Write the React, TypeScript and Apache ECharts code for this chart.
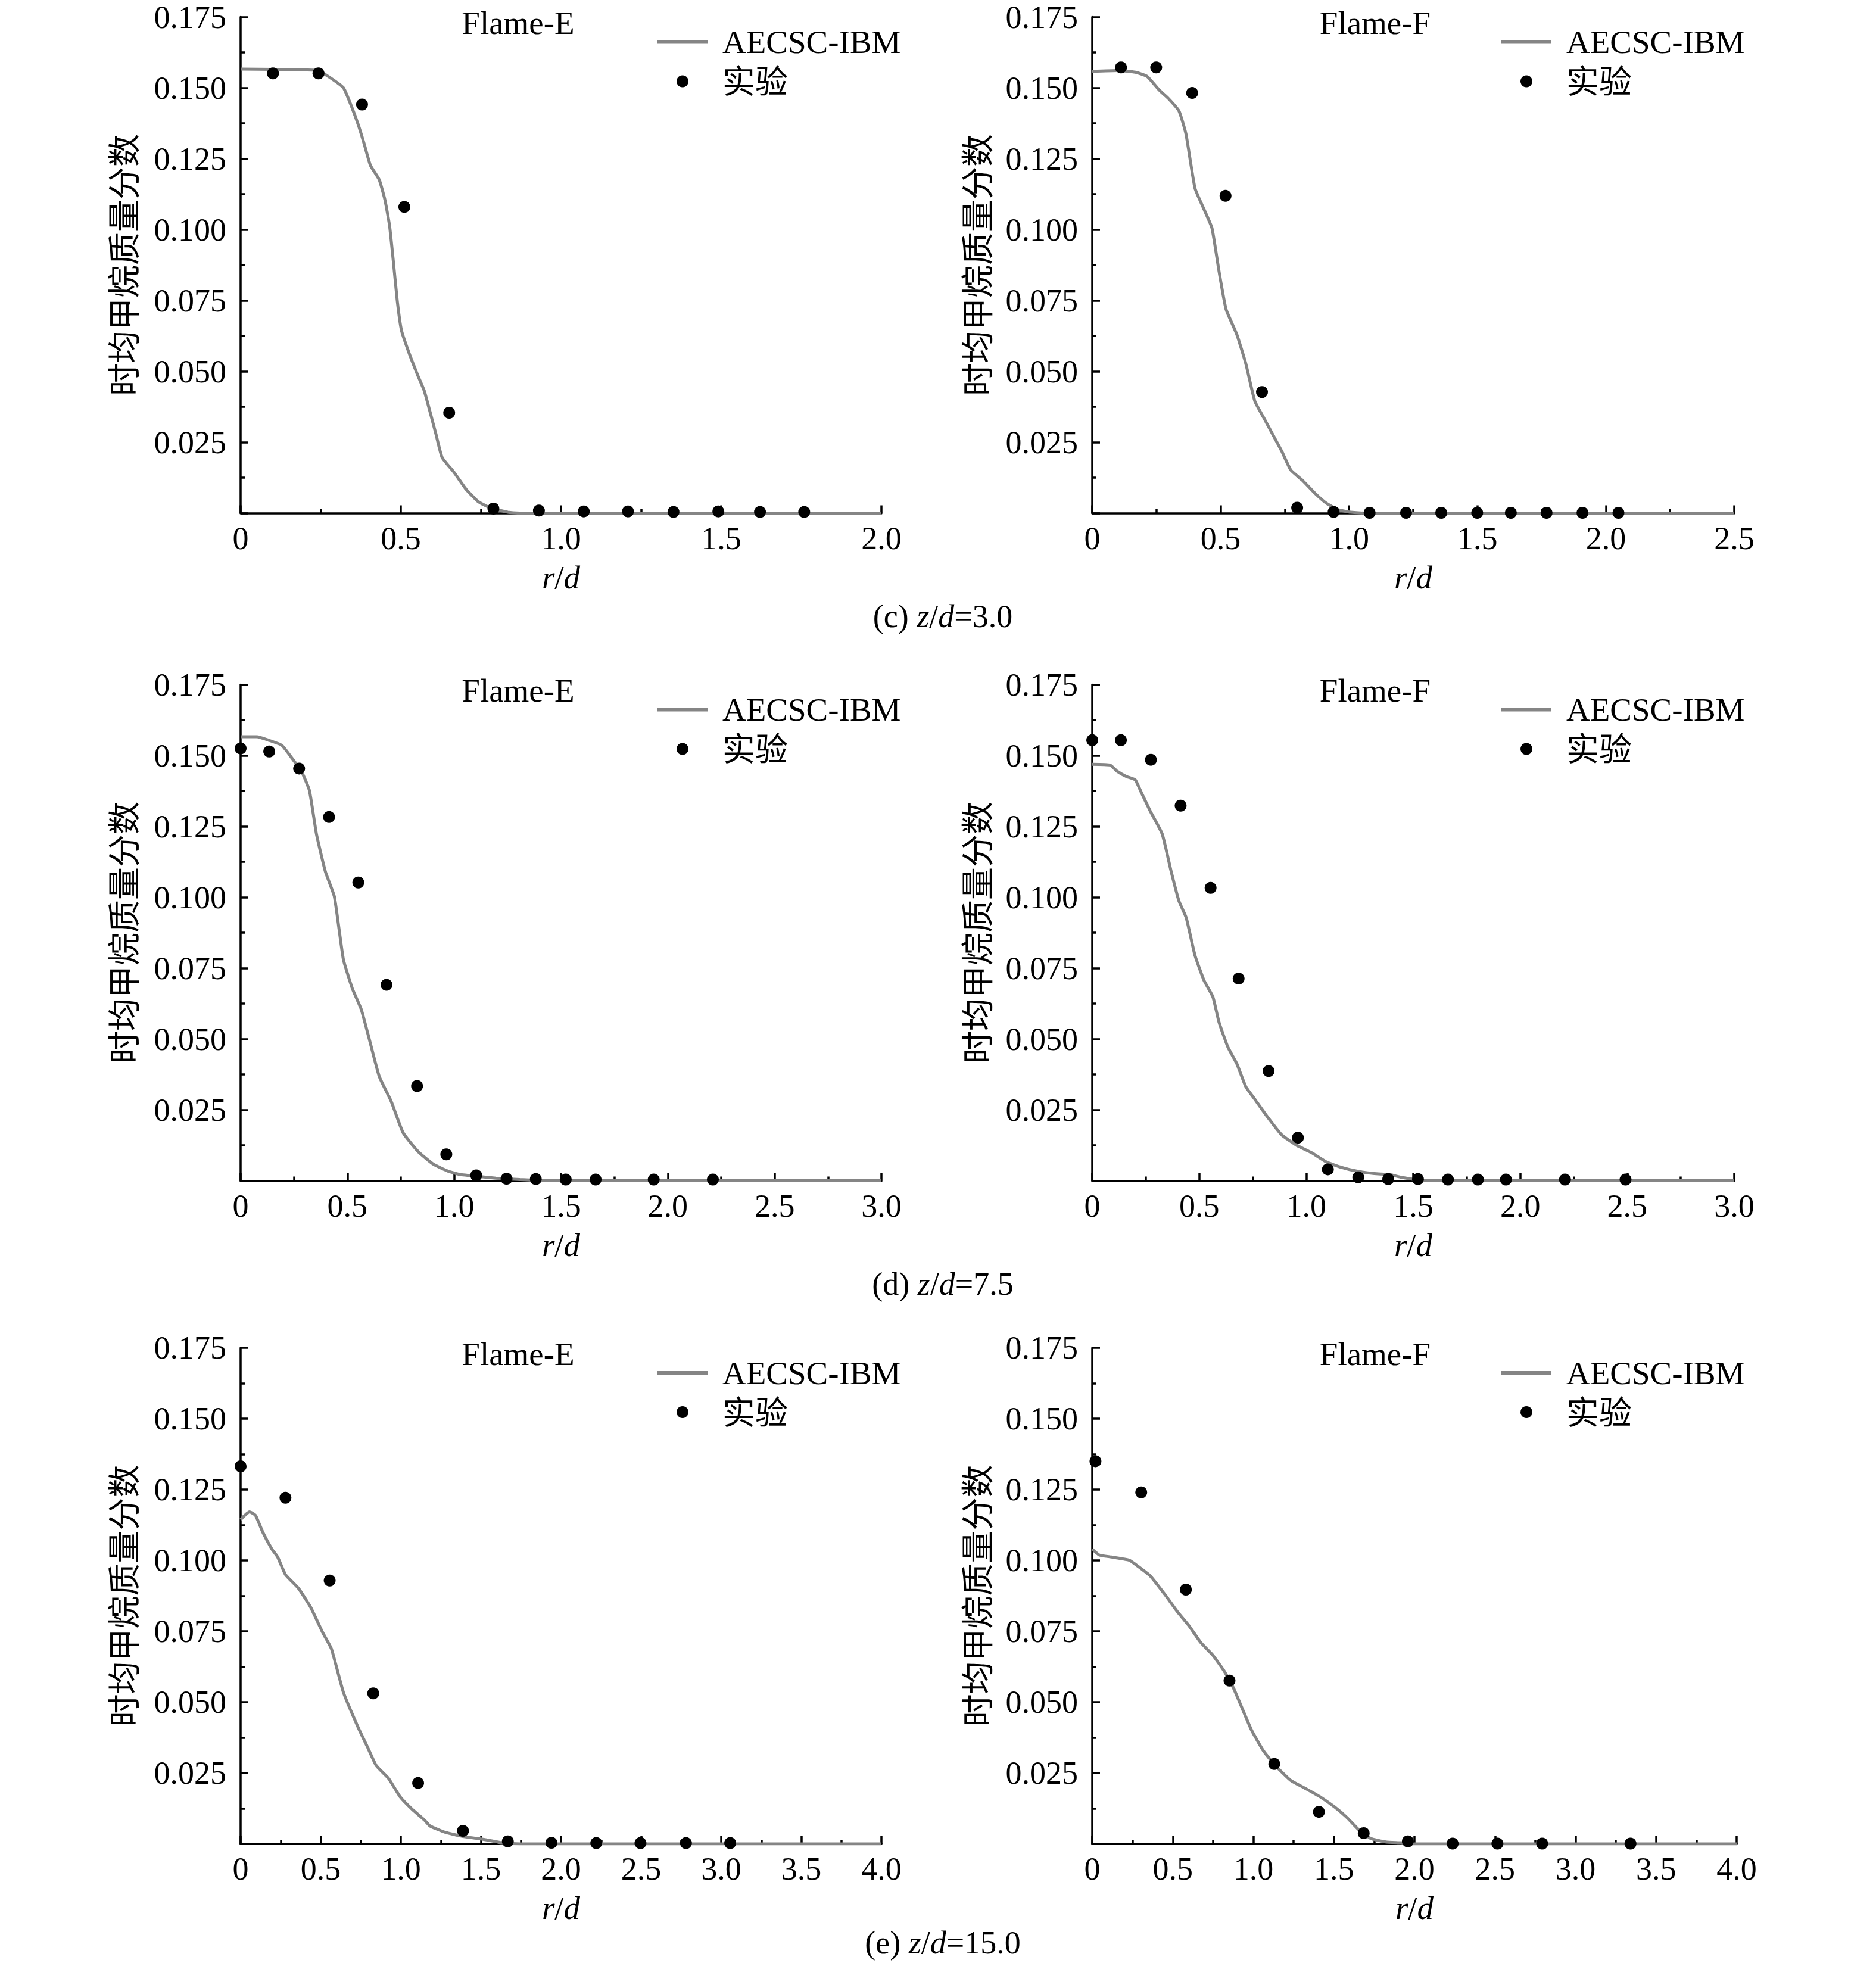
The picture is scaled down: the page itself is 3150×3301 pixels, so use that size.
import React, { useEffect, useRef } from "react";
import * as echarts from "echarts";

const FONT = "'Liberation Serif', 'Times New Roman', 'Noto Sans CJK SC', serif";

// ---------- data ----------
const legendNames = ["AECSC-IBM", "实验"];
const panelTitles = ["Flame-E", "Flame-F", "Flame-E", "Flame-F", "Flame-E", "Flame-F"];
const captions = ["(c) {i|z}/{i|d}=3.0", "(d) {i|z}/{i|d}=7.5", "(e) {i|z}/{i|d}=15.0"];
const xMaxes = [2.0, 2.5, 3.0, 3.0, 4.0, 4.0];
const yAxisName = "时均甲烷质量分数";

// z/d = 3.0, Flame-E
const simE3 = [
  [0, 0.1566], [0.1, 0.1565], [0.24, 0.1561], [0.274, 0.154], [0.321, 0.15], [0.349, 0.1426],
  [0.368, 0.1367], [0.386, 0.1301], [0.405, 0.1227], [0.433, 0.1175], [0.451, 0.1102],
  [0.465, 0.1013], [0.476, 0.0896], [0.489, 0.0748], [0.502, 0.0645], [0.526, 0.0564],
  [0.554, 0.0483], [0.573, 0.0432], [0.591, 0.0358], [0.61, 0.0277], [0.629, 0.0196],
  [0.666, 0.0144], [0.703, 0.0085], [0.741, 0.0041], [0.778, 0.0019], [0.834, 0.0003],
  [0.871, 0], [1.2, 0], [1.6, 0], [2.0, 0],
];
const expE3 = [
  [0.101, 0.1551], [0.243, 0.1551], [0.379, 0.1441], [0.511, 0.108], [0.651, 0.0354],
  [0.789, 0.0016], [0.931, 0.0009], [1.071, 0.0006], [1.209, 0.0006], [1.351, 0.0004],
  [1.491, 0.0006], [1.621, 0.0004], [1.759, 0.0004],
];

// z/d = 3.0, Flame-F
const simF3 = [
  [0, 0.1558], [0.098, 0.1561], [0.168, 0.1555], [0.214, 0.154], [0.261, 0.1492], [0.296, 0.1463],
  [0.338, 0.1418], [0.365, 0.1337], [0.4, 0.1146], [0.435, 0.1072], [0.466, 0.1006],
  [0.494, 0.0851], [0.521, 0.0719], [0.563, 0.063], [0.598, 0.0527], [0.633, 0.0395],
  [0.668, 0.0336], [0.703, 0.0277], [0.738, 0.0218], [0.773, 0.0152], [0.819, 0.0115],
  [0.866, 0.0071], [0.913, 0.0034], [0.959, 0.0012], [1.006, 0.0003], [1.075, 0],
  [1.5, 0], [2.0, 0], [2.5, 0],
];
const expF3 = [
  [0.112, 0.1572], [0.249, 0.1572], [0.389, 0.1482], [0.519, 0.1119], [0.661, 0.0427],
  [0.798, 0.0019], [0.94, 0.0004], [1.08, 0.0001], [1.222, 0.0001], [1.359, 0.0001],
  [1.499, 0.0001], [1.63, 0.0001], [1.769, 0.0001], [1.909, 0.0001], [2.049, 0.0001],
];

// z/d = 7.5, Flame-E
const simE75 = [
  [0, 0.1566], [0.076, 0.1566], [0.131, 0.1554], [0.193, 0.1536], [0.243, 0.1488], [0.285, 0.1444],
  [0.322, 0.1377], [0.355, 0.1223], [0.397, 0.109], [0.439, 0.1002], [0.481, 0.0781],
  [0.523, 0.0678], [0.565, 0.0604], [0.607, 0.0486], [0.649, 0.0368], [0.705, 0.028],
  [0.761, 0.0169], [0.831, 0.0103], [0.901, 0.0059], [0.971, 0.0034], [1.027, 0.0022],
  [1.111, 0.0015], [1.195, 0.0009], [1.307, 0.0004], [1.391, 0.0001], [1.6, 0],
  [2.2, 0], [3.0, 0],
];
const expE75 = [
  [0, 0.1525], [0.134, 0.1514], [0.274, 0.1454], [0.414, 0.1283], [0.551, 0.1052],
  [0.683, 0.0691], [0.826, 0.0334], [0.963, 0.0093], [1.103, 0.0019], [1.245, 0.0007],
  [1.382, 0.0006], [1.522, 0.0004], [1.662, 0.0004], [1.934, 0.0004], [2.211, 0.0004],
];

// z/d = 7.5, Flame-F
const simF75 = [
  [0, 0.1469], [0.084, 0.1466], [0.117, 0.1444], [0.159, 0.1426], [0.201, 0.1414], [0.229, 0.137],
  [0.271, 0.1304], [0.327, 0.1223], [0.369, 0.109], [0.405, 0.0987], [0.439, 0.0928],
  [0.48, 0.0795], [0.522, 0.0707], [0.564, 0.0648], [0.592, 0.056], [0.634, 0.0471],
  [0.676, 0.0412], [0.718, 0.0331], [0.76, 0.0287], [0.816, 0.0228], [0.885, 0.0162],
  [0.955, 0.0125], [1.025, 0.0099], [1.095, 0.0066], [1.165, 0.0047], [1.235, 0.0034],
  [1.318, 0.0025], [1.388, 0.0022], [1.444, 0.0012], [1.514, 0.0004], [1.6, 0],
  [2.2, 0], [3.0, 0],
];
const expF75 = [
  [0, 0.1554], [0.134, 0.1554], [0.274, 0.1485], [0.413, 0.1323], [0.553, 0.1033],
  [0.684, 0.0713], [0.824, 0.0387], [0.961, 0.0152], [1.101, 0.004], [1.243, 0.0012],
  [1.383, 0.0006], [1.522, 0.0006], [1.662, 0.0004], [1.802, 0.0004], [1.933, 0.0004],
  [2.209, 0.0004], [2.492, 0.0004],
];

// z/d = 15.0, Flame-E
const simE15 = [
  [0, 0.1144], [0.026, 0.1159], [0.056, 0.1171], [0.093, 0.1159], [0.138, 0.11], [0.194, 0.1041],
  [0.231, 0.1012], [0.28, 0.095], [0.362, 0.0901], [0.437, 0.0835], [0.511, 0.0747],
  [0.567, 0.0688], [0.642, 0.0534], [0.735, 0.0409], [0.791, 0.0343], [0.847, 0.0276],
  [0.922, 0.0232], [0.996, 0.0166], [1.071, 0.0122], [1.146, 0.0085], [1.183, 0.0063],
  [1.276, 0.0041], [1.388, 0.0026], [1.481, 0.0019], [1.556, 0.0012], [1.631, 0.0004],
  [1.743, 0], [2.5, 0], [3.2, 0], [4.0, 0],
];
const expE15 = [
  [0, 0.1332], [0.28, 0.1221], [0.556, 0.0929], [0.828, 0.0531], [1.108, 0.0215],
  [1.388, 0.0046], [1.668, 0.0009], [1.94, 0.0004], [2.22, 0.0003], [2.496, 0.0003],
  [2.78, 0.0003], [3.056, 0.0003],
];

// z/d = 15.0, Flame-F
const simF15 = [
  [0, 0.104], [0.044, 0.1019], [0.119, 0.1012], [0.23, 0.1001], [0.285, 0.0979], [0.359, 0.0946],
  [0.452, 0.0879], [0.526, 0.0821], [0.6, 0.077], [0.674, 0.071], [0.748, 0.0666],
  [0.822, 0.0607], [0.878, 0.0548], [0.933, 0.0475], [0.989, 0.0401], [1.063, 0.0328],
  [1.137, 0.0276], [1.23, 0.0225], [1.322, 0.0196], [1.415, 0.0166], [1.507, 0.0129],
  [1.581, 0.0093], [1.656, 0.0049], [1.73, 0.0019], [1.822, 0.0007], [1.915, 0.0004],
  [1.989, 0], [2.8, 0], [3.4, 0], [4.0, 0],
];
const expF15 = [
  [0.02, 0.135], [0.304, 0.124], [0.581, 0.0897], [0.852, 0.0576], [1.13, 0.0282],
  [1.407, 0.0113], [1.685, 0.0038], [1.959, 0.0009], [2.237, 0.0001], [2.515, 0.0001],
  [2.793, 0.0001], [3.341, 0.0001],
];

const simSets = [simE3, simF3, simE75, simF75, simE15, simF15];
const expSets = [expE3, expF3, expE75, expF75, expE15, expF15];

// ---------- layout ----------
const W = 3150;
const H = 3301;
const colLeft = [404, 1834];
const colWidth = [1076, 1078];
const rowTop = [28.5, 1149.5, 2263];
const rowHeight = 833;
const captionY = [1035, 2156, 3262];
const LINE_COLOR = "#858585";

function buildOption() {
  const grids: any[] = [];
  const xAxes: any[] = [];
  const yAxes: any[] = [];
  const series: any[] = [];
  const graphics: any[] = [];

  for (let i = 0; i < 6; i++) {
    const row = Math.floor(i / 2);
    const col = i % 2;
    const left = colLeft[col];
    const width = i === 5 ? 1082 : colWidth[col];
    const top = rowTop[row];
    grids.push({ left, top, width, height: rowHeight, containLabel: false });

    const axisLine = { show: true, onZero: false, lineStyle: { color: "#000", width: 3.5 } };
    const tick = { show: true, inside: true, length: 13, lineStyle: { color: "#000", width: 3.5 } };
    const minor = { show: true, splitNumber: 2, length: 7, lineStyle: { color: "#000", width: 3.5 } };
    const labelStyle = { fontSize: 54, fontFamily: FONT, color: "#000" };

    xAxes.push({
      gridIndex: i,
      type: "value",
      min: 0,
      max: xMaxes[i],
      interval: 0.5,
      axisLine,
      axisTick: tick,
      minorTick: minor,
      splitLine: { show: false },
      minorSplitLine: { show: false },
      axisLabel: {
        ...labelStyle,
        margin: 15,
        formatter: (v: number) => (v === 0 ? "0" : v.toFixed(1)),
      },
      name: "{i|r}/{i|d}",
      nameLocation: "middle",
      nameGap: 80,
      nameTextStyle: {
        fontSize: 55,
        fontFamily: FONT,
        color: "#000",
        lineHeight: 55,
        rich: {
          i: { fontSize: 55, fontFamily: FONT, color: "#000", fontStyle: "italic", lineHeight: 55 },
        },
      },
    });

    yAxes.push({
      gridIndex: i,
      type: "value",
      min: 0,
      max: 0.175,
      interval: 0.025,
      axisLine,
      axisTick: tick,
      minorTick: minor,
      splitLine: { show: false },
      minorSplitLine: { show: false },
      axisLabel: {
        ...labelStyle,
        margin: 24,
        formatter: (v: number) => (v === 0 ? "" : v.toFixed(3)),
      },
      name: yAxisName,
      nameLocation: "middle",
      nameRotate: 90,
      nameGap: col === 0 ? 167 : 164,
      nameTextStyle: { fontSize: 55, fontFamily: FONT, color: "#000", lineHeight: 55 },
    });

    series.push({
      name: legendNames[0],
      type: "line",
      xAxisIndex: i,
      yAxisIndex: i,
      data: simSets[i],
      symbol: "none",
      showSymbol: false,
      smooth: 0.15,
      lineStyle: { color: LINE_COLOR, width: 5 },
      z: 2,
    });
    series.push({
      name: legendNames[1],
      type: "scatter",
      xAxisIndex: i,
      yAxisIndex: i,
      data: expSets[i],
      symbol: "circle",
      symbolSize: 20,
      itemStyle: { color: "#000", opacity: 1 },
      z: 3,
    });

    // panel title
    const titleX = col === 0 ? 870 : 2309;
    graphics.push({
      type: "text",
      x: titleX,
      y: top + 10,
      style: {
        text: panelTitles[i],
        fontSize: 55,
        fontFamily: FONT,
        fill: "#000",
        align: "center",
        verticalAlign: "middle",
      },
    });

    // legend
    const lx1 = col === 0 ? 1104 : 2521;
    const lx2 = lx1 + 84;
    const tx = lx2 + 25;
    graphics.push({
      type: "line",
      shape: { x1: lx1, y1: top + 42, x2: lx2, y2: top + 42 },
      style: { stroke: LINE_COLOR, lineWidth: 6 },
    });
    graphics.push({
      type: "text",
      x: tx,
      y: top + 42,
      style: {
        text: legendNames[0],
        fontSize: 55,
        fontFamily: FONT,
        fill: "#000",
        align: "left",
        verticalAlign: "middle",
      },
    });
    graphics.push({
      type: "circle",
      shape: { cx: (lx1 + lx2) / 2, cy: top + 108, r: 10 },
      style: { fill: "#000" },
    });
    graphics.push({
      type: "text",
      x: tx,
      y: top + 109,
      style: {
        text: legendNames[1],
        fontSize: 55,
        fontFamily: FONT,
        fill: "#000",
        align: "left",
        verticalAlign: "middle",
      },
    });
  }

  for (let r = 0; r < 3; r++) {
    graphics.push({
      type: "text",
      x: 1583,
      y: captionY[r],
      style: {
        text: captions[r],
        fontSize: 54,
        fontFamily: FONT,
        fill: "#000",
        align: "center",
        verticalAlign: "middle",
        rich: {
          i: { fontSize: 54, fontFamily: FONT, fill: "#000", fontStyle: "italic" },
        },
      },
    });
  }

  return {
    animation: false,
    backgroundColor: "#fff",
    grid: grids,
    xAxis: xAxes,
    yAxis: yAxes,
    series,
    graphic: { elements: graphics },
  };
}

export default function App() {
  const ref = useRef<HTMLDivElement>(null);
  useEffect(() => {
    document.body.style.margin = "0";
    if (!ref.current) return;
    const chart = echarts.init(ref.current, null, { renderer: "svg" });
    chart.setOption(buildOption() as any);
    return () => chart.dispose();
  }, []);
  return <div ref={ref} style={{ width: W, height: H, background: "#fff" }} />;
}
